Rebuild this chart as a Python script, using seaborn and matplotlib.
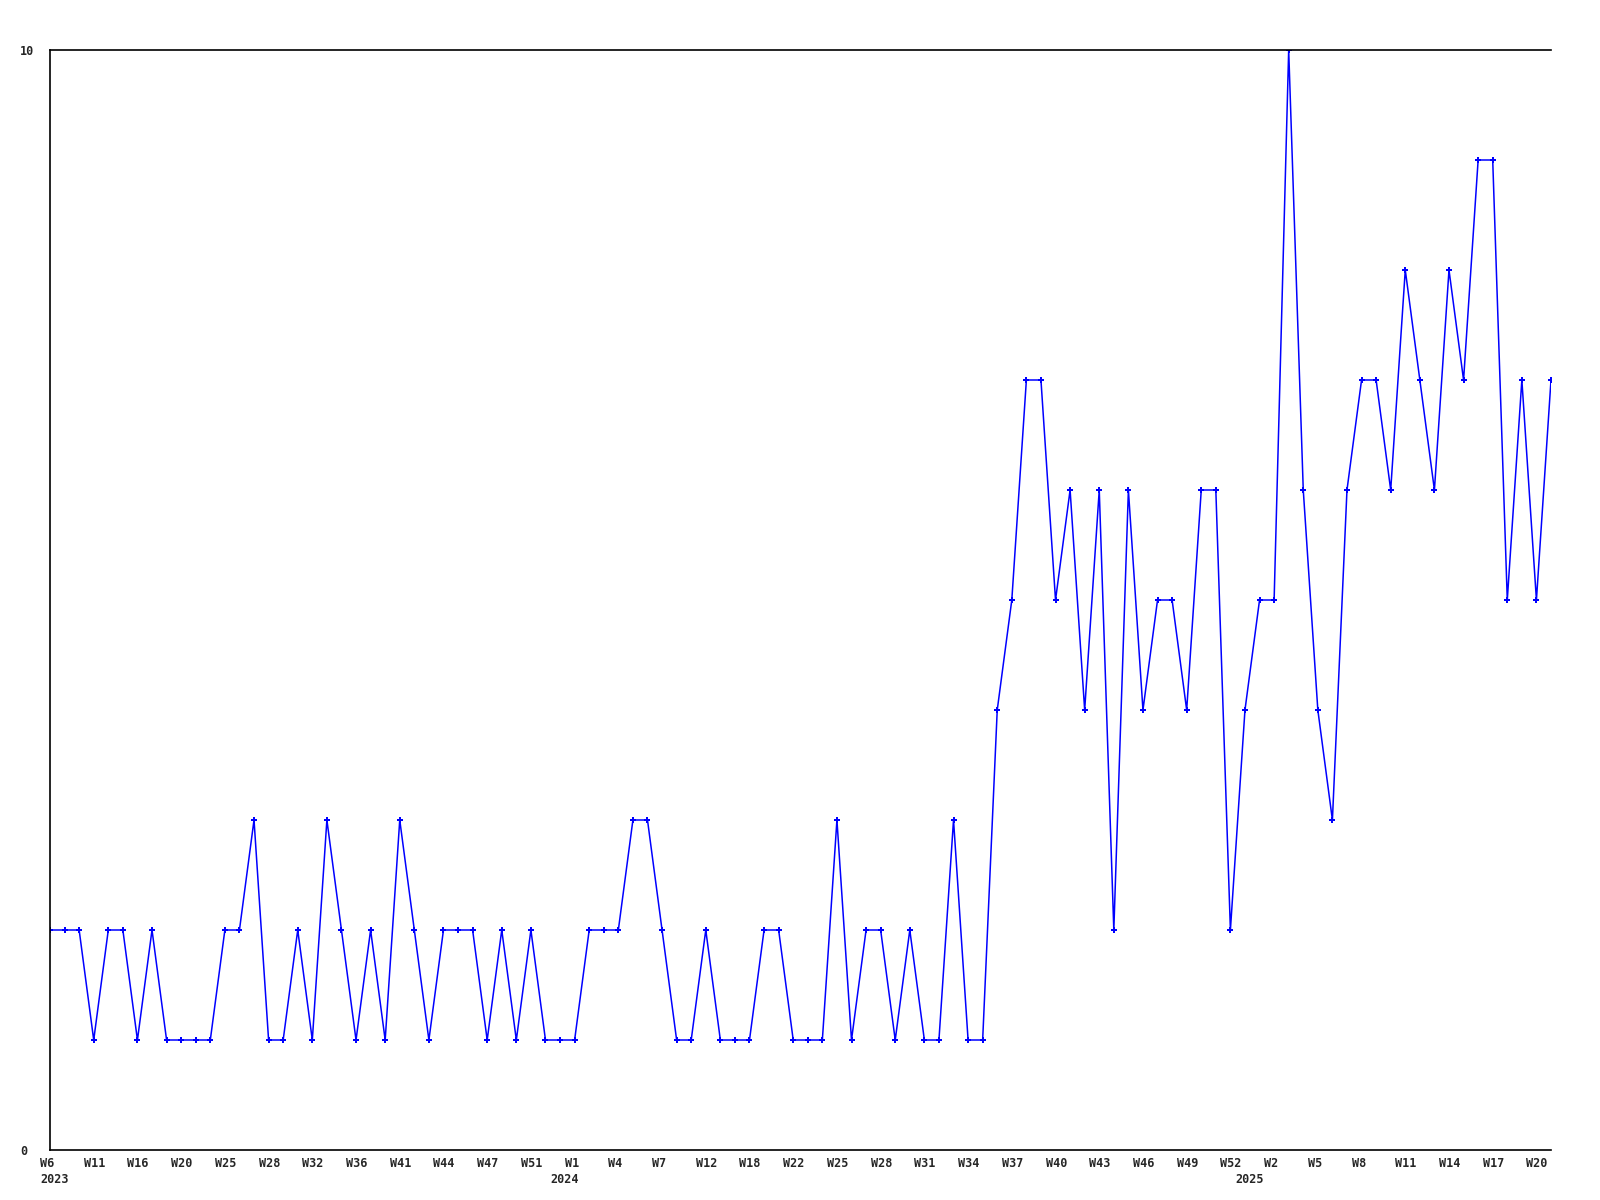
import numpy as np
import pandas as pd
import matplotlib
matplotlib.use("Agg")
import matplotlib.pyplot as plt
from matplotlib.transforms import ScaledTranslation
import seaborn as sns

# weekly counts, one point per week shown
values = [2, 2, 2, 1, 2, 2, 1, 2, 1, 1, 1, 1, 2, 2, 3, 1, 1, 2, 1, 3,
          2, 1, 2, 1, 3, 2, 1, 2, 2, 2, 1, 2, 1, 2, 1, 1, 1, 2, 2, 2,
          3, 3, 2, 1, 1, 2, 1, 1, 1, 2, 2, 1, 1, 1, 3, 1, 2, 2, 1, 2,
          1, 1, 3, 1, 1, 4, 5, 7, 7, 5, 6, 4, 6, 2, 6, 4, 5, 5, 4, 6,
          6, 2, 4, 5, 5, 10, 6, 4, 3, 6, 7, 7, 6, 8, 7, 6, 8, 7, 9, 9,
          5, 7, 5, 7]

# tick labels every 3rd point
week_labels = ["W6", "W11", "W16", "W20", "W25", "W28", "W32", "W36", "W41",
               "W44", "W47", "W51", "W1", "W4", "W7", "W12", "W18", "W22",
               "W25", "W28", "W31", "W34", "W37", "W40", "W43", "W46", "W49",
               "W52", "W2", "W5", "W8", "W11", "W14", "W17", "W20"]
year_pos = [0, 35, 82]
year_labels = ["2023", "2024", "2025"]

df = pd.DataFrame({"idx": np.arange(len(values)), "count": values})

sns.set_style("white")
plt.rcParams["font.family"] = ["DejaVu Sans Mono"]
plt.rcParams["font.weight"] = "bold"

fig = plt.figure(figsize=(16, 12), dpi=100)
ax = fig.add_axes([50 / 1600, 50 / 1200, 1501 / 1600, 1100 / 1200])

sns.lineplot(data=df, x="idx", y="count", ax=ax, color="#0000ff", linewidth=1.1,
             marker="P", markersize=4.5, markeredgewidth=0, markerfacecolor="#0000ff")

ax.set_xlim(0, len(values) - 1)
ax.set_ylim(0, 10)
ax.set_xlabel("")
ax.set_ylabel("")

# year labels sit on minor ticks, keep the one that shares x=0 with W6
ax.xaxis.remove_overlapping_locs = False
ticks = list(range(0, len(values), 3))[:len(week_labels)]
ax.set_xticks(ticks)
ax.set_xticklabels(week_labels, fontsize=8.5, fontweight="bold", ha="left")
ax.set_xticks(year_pos, minor=True)
ax.set_xticklabels(year_labels, minor=True, fontsize=8.5, fontweight="bold", ha="left")
ax.set_yticks([0, 10])
ax.set_yticklabels(["0", "10"], fontsize=8.5, fontweight="bold", ha="left")
ax.tick_params(axis="both", which="both", length=0, pad=0)
ax.tick_params(axis="x", which="major", pad=5)
ax.tick_params(axis="x", which="minor", pad=16.5)

shift_x = ScaledTranslation(-10 / 100, 0, fig.dpi_scale_trans)
for lab in ax.get_xticklabels() + ax.get_xticklabels(minor=True):
    lab.set_transform(lab.get_transform() + shift_x)
shift_y = ScaledTranslation(-30 / 100, 0, fig.dpi_scale_trans)
for lab in ax.get_yticklabels():
    lab.set_transform(lab.get_transform() + shift_y)

for side in ["left", "top", "bottom"]:
    ax.spines[side].set_visible(True)
    ax.spines[side].set_color("black")
    ax.spines[side].set_linewidth(1.2)
ax.spines["right"].set_visible(False)
ax.grid(False)

fig.savefig("out.png", dpi=100, facecolor="white")
